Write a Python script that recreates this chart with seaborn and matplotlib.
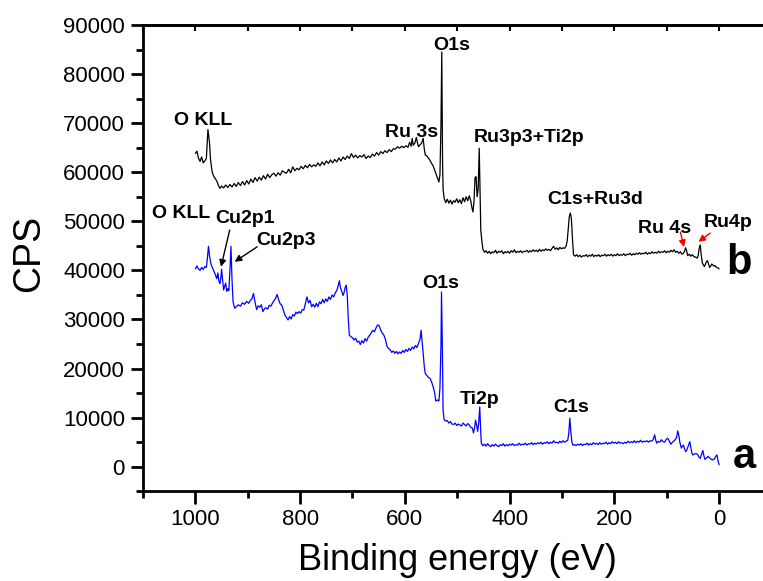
import matplotlib
matplotlib.use("Agg")
import matplotlib.pyplot as plt
from matplotlib.ticker import MultipleLocator
import seaborn as sns
import pandas as pd

# ---------------- data ----------------
b_energy = [1000, 997, 994, 991, 988, 985, 982, 979, 976, 973,
            971, 968, 965, 962, 959, 956, 953, 950, 946, 942,
            938, 934, 930, 926, 922, 918, 914, 910, 906, 902,
            898, 894, 890, 886, 882, 878, 874, 870, 866, 862,
            858, 854, 850, 846, 842, 838, 834, 830, 826, 822,
            818, 814, 810, 806, 802, 798, 794, 790, 786, 782,
            778, 774, 770, 766, 762, 758, 754, 750, 746, 742,
            738, 734, 730, 726, 722, 718, 714, 710, 706, 702,
            698, 694, 690, 686, 682, 678, 674, 670, 666, 662,
            658, 654, 650, 646, 642, 638, 634, 630, 626, 622,
            618, 614, 610, 606, 602, 598, 594, 591, 588, 586,
            584, 581, 578, 576, 574, 571, 568, 565, 563, 561,
            558, 555, 552, 549, 546, 543, 540, 537, 535, 533,
            531, 529.5, 528, 527, 525, 522, 519, 516, 513, 510,
            507, 504, 501, 498, 495, 492, 489, 486, 483, 480,
            477, 474, 472, 470, 468, 466, 464, 462, 460, 458,
            456.5, 455, 453, 451, 448, 445, 442, 439, 436, 433,
            430, 427, 424, 421, 418, 415, 412, 409, 406, 403,
            400, 397, 394, 391, 388, 385, 382, 379, 376, 373,
            370, 367, 364, 361, 358, 355, 352, 349, 346, 343,
            340, 337, 334, 331, 328, 325, 322, 319, 316, 313,
            310, 307, 304, 301, 298, 295, 292, 290, 288, 286,
            284, 282, 280, 278, 275, 272, 269, 266, 263, 260,
            257, 254, 251, 248, 245, 242, 239, 236, 233, 230,
            227, 224, 221, 218, 215, 212, 209, 206, 203, 200,
            197, 194, 191, 188, 185, 182, 179, 176, 173, 170,
            167, 164, 161, 158, 155, 152, 149, 146, 143, 140,
            137, 134, 131, 128, 125, 122, 119, 116, 113, 110,
            107, 104, 101, 98, 95, 92, 89, 86, 83, 80,
            77, 74, 71, 68, 66, 64, 62, 60, 57, 54,
            51, 48, 45, 42, 40, 38, 36, 34, 32, 30,
            28, 26, 24, 22, 20, 18, 16, 14, 12, 10,
            8, 6, 4, 2, 0]
b_cps = [63800, 64300, 62900, 62200, 63100, 61900, 62300, 62800, 68700, 66000,
         62500, 60100, 59200, 58700, 58200, 57300, 56700, 57200, 56800, 57400,
         56900, 57500, 57000, 57700, 57100, 57900, 57300, 58100, 57400, 58300,
         57600, 58600, 57900, 58900, 58200, 59000, 58400, 59300, 58600, 59600,
         58900, 59500, 59800, 59200, 59900, 59400, 60300, 60000, 59800, 60600,
         59900, 61100, 60300, 60800, 60500, 61200, 60700, 61400, 60900, 61600,
         61100, 61500, 61200, 61900, 61300, 62100, 61500, 62300, 61800, 62500,
         61900, 62600, 62100, 62900, 62300, 63100, 62600, 63300, 62800, 63800,
         63000, 63500, 62900, 63400, 63100, 63600, 62800, 63300, 63000, 63700,
         63300, 64000, 63500, 64200, 63800, 64400, 64000, 64600, 64200, 64800,
         64700, 65200, 64900, 65300, 65000, 65400, 65100, 66100, 65300, 66900,
         65500, 65900, 67100, 66000, 65200, 65600, 65900, 66900, 64800, 63500,
         63300, 62900, 62400, 61800, 61300, 60400, 59500, 58600, 58000, 59500,
         70000, 84500, 62000, 56500, 54700, 53800, 54500, 53700, 54300, 53500,
         54200, 53900, 54600, 53800, 54400, 53600, 54800, 54000, 55000, 54200,
         55200, 54100, 52800, 51900, 54000, 58900, 59100, 55000, 56500, 64900,
         57000, 48200, 46000, 44300, 43700, 44000, 43500, 43900, 43400, 43800,
         43600, 44100, 43500, 43900, 43700, 44000, 43400, 43800, 43600, 43900,
         43500, 44000, 43700, 44200, 43600, 43900, 43700, 44000, 43600, 43900,
         43800, 44100, 43700, 44000, 43800, 44200, 43900, 44100, 43800, 44300,
         43900, 44200, 44000, 44400, 44100, 44300, 44000, 44500, 44900, 44300,
         44600, 44200, 44700, 44400, 44600, 44500, 45000, 46000, 48500, 51000,
         51700, 50500, 46500, 43200, 42900, 43200, 42800, 43100, 42700, 43000,
         42900, 43200, 42800, 43100, 42900, 43300, 42800, 43100, 42900, 43200,
         42800, 43100, 43000, 43300, 42900, 43200, 43000, 43300, 42900, 43200,
         43000, 43400, 43000, 43200, 43100, 43400, 43000, 43300, 43200, 43500,
         43100, 43400, 43200, 43500, 43300, 43600, 43300, 43500, 43400, 43700,
         43300, 43600, 43400, 43800, 43500, 43700, 43500, 43900, 43600, 43800,
         43700, 44000, 43600, 43900, 43700, 44100, 43800, 44200, 43700, 43900,
         43500, 43800, 43300, 43500, 43900, 44600, 44000, 43000, 43300, 42900,
         43200, 42800, 42700, 42500, 43000, 44500, 45200, 43000, 41500, 41100,
         40800, 41300, 41800, 42000, 41200, 40600, 40900, 41300, 41100, 40900,
         41000, 40700, 40600, 40500, 40300]

a_energy = [1000, 997, 994, 991, 988, 985, 982, 979, 977, 975,
            973, 970, 968, 965, 962, 959, 957, 955, 953, 951,
            950, 948, 946, 944, 942, 940, 938, 936, 934, 932,
            930, 928, 925, 922, 918, 914, 910, 906, 902, 898,
            895, 892, 889, 886, 883, 880, 877, 874, 871, 868,
            865, 862, 859, 856, 853, 850, 847, 844, 841, 838,
            835, 832, 829, 826, 823, 820, 817, 814, 811, 808,
            805, 802, 799, 796, 793, 790, 787, 784, 781, 778,
            775, 772, 769, 766, 763, 760, 757, 754, 751, 748,
            745, 742, 739, 736, 733, 730, 727, 725, 723, 720,
            718, 716, 714, 712, 710, 708, 706, 703, 700, 697,
            694, 691, 688, 685, 682, 679, 676, 673, 670, 667,
            664, 661, 658, 655, 652, 649, 646, 643, 640, 637,
            634, 631, 628, 625, 622, 619, 616, 613, 610, 607,
            604, 601, 598, 595, 592, 589, 586, 583, 580, 577,
            574, 571, 569, 567, 565, 563, 561, 558, 555, 552,
            549, 546, 543, 541, 538, 535, 533, 531, 530, 528.5,
            527, 525, 522, 519, 516, 513, 510, 507, 504, 501,
            498, 495, 492, 489, 486, 483, 480, 477, 474, 471,
            469, 467, 465, 463, 461, 459, 457, 455.5, 454, 451,
            448, 445, 442, 439, 436, 433, 430, 427, 424, 421,
            418, 415, 412, 409, 406, 403, 400, 397, 394, 391,
            388, 385, 382, 379, 376, 373, 370, 367, 364, 361,
            358, 355, 352, 349, 346, 343, 340, 337, 334, 331,
            328, 325, 322, 319, 316, 313, 310, 307, 304, 301,
            298, 295, 292, 289, 287, 285, 283, 281, 279, 276,
            273, 270, 267, 264, 261, 258, 255, 252, 249, 246,
            243, 240, 237, 234, 231, 228, 225, 222, 219, 216,
            213, 210, 207, 204, 201, 198, 195, 192, 189, 186,
            183, 180, 177, 174, 171, 168, 165, 162, 159, 156,
            153, 150, 147, 144, 141, 138, 135, 132, 129, 126,
            123, 121, 119, 116, 113, 110, 107, 104, 101, 98,
            95, 92, 89, 86, 84, 81, 79, 77, 75, 72,
            70, 68, 66, 64, 62, 59, 56, 54, 52, 50,
            47, 44, 41, 38, 36, 34, 31, 29, 27, 24,
            21, 18, 15, 12, 9, 6, 4, 2, 0]
a_cps = [40300, 40900, 40300, 40000, 40600, 40200, 40800, 40600, 42500, 44900,
         43000, 41200, 40700, 39900, 39200, 38300, 39500, 37800, 37300, 38800,
         40200, 38000, 36000, 36800, 37400, 35700, 36300, 35900, 40000, 44900,
         38000, 33600, 32300, 32600, 33000, 32700, 33400, 33100, 33700, 33300,
         33900, 34200, 35300, 33500, 32000, 32800, 32500, 33000, 31600, 32200,
         32400, 32100, 32900, 32700, 33300, 33800, 34300, 35100, 34000, 33200,
         32900, 31900, 30900, 30400, 29900, 30600, 30100, 31000, 30700, 31500,
         31200, 31600, 31300, 32000, 31900, 33200, 34600, 33400, 33900, 32600,
         33100, 32500, 33300, 32600, 33600, 33200, 34100, 33400, 34200, 33700,
         34600, 34100, 35000, 34600, 35400, 35900, 37000, 37900, 36500, 35600,
         34900, 35500, 36500, 37000, 35000, 30000, 26800, 26500, 26300, 25800,
         26200, 25400, 25600, 24900, 25700, 25200, 26100, 25600, 26400, 26800,
         27300, 27800, 27500, 28300, 28900, 28700, 27800, 27200, 26800, 25900,
         24500, 24100, 23800, 23300, 23600, 23100, 23500, 23000, 23400, 23100,
         23700, 23300, 23900, 23500, 24100, 23700, 24400, 24000, 24700, 24300,
         25100, 26000, 27800, 25500, 23100, 20500, 19000, 18600, 18200, 18000,
         17300, 16300, 15000, 13400, 13600, 13400, 16000, 25000, 35600, 25000,
         11500, 9600, 9300, 9400, 8900, 9200, 8700, 8600, 8900, 8400,
         8700, 8500, 8300, 8900, 8600, 8300, 8800, 8500, 8000, 7900,
         6900, 7800, 9500, 8500, 7200, 9000, 12200, 8000, 4800, 4300,
         4600, 4200, 4700, 4300, 4100, 4500, 4200, 4600, 4300, 4100,
         4500, 4300, 4700, 4200, 4500, 4300, 4600, 4400, 4700, 4300,
         4500, 4400, 4800, 4400, 4600, 4500, 4800, 4400, 4700, 4600,
         4900, 4500, 4800, 4600, 4900, 4700, 5000, 4600, 4900, 4800,
         5100, 4700, 5000, 4800, 5300, 4900, 5000, 4800, 5200, 4900,
         5300, 5000, 5200, 5400, 6800, 9900, 7000, 5000, 4400, 4500,
         4300, 4600, 4400, 4700, 4300, 4600, 4500, 4800, 4400, 4700,
         4500, 4900, 4600, 4800, 4500, 4900, 4600, 4800, 4700, 5000,
         4600, 4900, 4700, 5100, 4800, 5000, 4700, 5100, 4800, 4900,
         4700, 5000, 4800, 5200, 4900, 5100, 4900, 5300, 4900, 5200,
         5000, 5400, 5000, 5200, 5100, 5300, 5000, 5300, 5200, 5500,
         6500, 5400, 4800, 5200, 5000, 5500, 5100, 5000, 5600, 5800,
         5200, 4600, 5000, 5300, 5500, 6000, 7300, 6500, 5000, 3800,
         4200, 4400, 3700, 3100, 3300, 4200, 5100, 4000, 2800, 2400,
         2600, 2700, 2500, 1900, 1700, 2400, 3300, 2200, 1500, 1800,
         2100, 1800, 1500, 1400, 1600, 2200, 2400, 1200, 400]

x_ticks = [1000, 800, 600, 400, 200, 0]
y_ticks = [0, 10000, 20000, 30000, 40000, 50000, 60000, 70000, 80000, 90000]

# peak labels: (text, energy, cps)
b_labels = [("O KLL", 985, 69600), ("Ru 3s", 588, 67160), ("O1s", 510, 84900),
            ("Ru3p3+Ti2p", 363, 66200), ("C1s+Ru3d", 236, 53500),
            ("Ru 4s", 105, 47600), ("Ru4p", -17, 48840)]
a_labels = [("O KLL", 1028, 50660), ("Cu2p1", 905, 49700), ("Cu2p3", 827, 45160),
            ("O1s", 531, 36340), ("Ti2p", 457, 12710), ("C1s", 282, 11200)]
# arrows: (start energy, start cps, end energy, end cps, colour)
arrows = [(934.5, 48210, 951, 40740, "black"), (882, 44810, 925, 41760, "black"),
          (74, 47810, 67, 44750, "red"), (17, 47600, 39.5, 45830, "red")]
series_tags = [("b", -38, 39200), ("a", -48, -330)]

# ---------------- plot ----------------
sns.set_style("ticks")
plt.rcParams["font.family"] = ["Liberation Sans", "DejaVu Sans"]
plt.rcParams.update({"text.color": "black", "axes.labelcolor": "black",
                     "axes.edgecolor": "black", "xtick.color": "black",
                     "ytick.color": "black"})

fig = plt.figure(figsize=(7.63, 5.81), dpi=100)
ax = fig.add_axes([0.1874, 0.1544, 0.8237, 0.8026])

df_b = pd.DataFrame({"E": b_energy, "CPS": b_cps})
df_a = pd.DataFrame({"E": a_energy, "CPS": a_cps})
sns.lineplot(data=df_b, x="E", y="CPS", ax=ax, color="black", lw=0.9,
             sort=False, estimator=None)
sns.lineplot(data=df_a, x="E", y="CPS", ax=ax, color="#0000ff", lw=0.9,
             sort=False, estimator=None)

ax.set_xlim(1100, -100)
ax.set_ylim(-5000, 90000)
ax.set_xticks(x_ticks)
ax.set_yticks(y_ticks)
ax.xaxis.set_minor_locator(MultipleLocator(100))
ax.yaxis.set_minor_locator(MultipleLocator(5000))

for s in ["left", "bottom", "top"]:
    ax.spines[s].set_linewidth(2.0)
    ax.spines[s].set_color("black")
ax.spines["right"].set_visible(False)
ax.tick_params(which="major", direction="out", length=9, width=2,
               labelsize=16, pad=4, colors="black")
ax.tick_params(which="minor", direction="out", length=5, width=2,
               colors="black")
ax.tick_params(axis="x", which="both", top=False)

top = ax.secondary_xaxis("top")
top.set_xticks([1000, 800, 600, 400, 200, 0])
top.xaxis.set_minor_locator(MultipleLocator(100))
top.tick_params(which="both", direction="in", length=4, width=1.5,
                labeltop=False, colors="black")
top.spines["top"].set_linewidth(2.0)
top.spines["top"].set_color("black")

ax.set_xlabel("Binding energy (eV)", fontsize=26, labelpad=9, color="black")
ax.set_ylabel("CPS", fontsize=27, color="black")
ax.yaxis.set_label_coords(-0.152, 0.51)

for txt, e, c in b_labels + a_labels:
    ax.text(e, c, txt, fontsize=14, fontweight="bold", ha="center",
            va="baseline", color="black")
for txt, e, c in series_tags:
    ax.text(e, c, txt, fontsize=30, fontweight="bold", ha="center",
            va="baseline", color="black")
for x0, y0, x1, y1, col in arrows:
    ax.annotate("", xy=(x1, y1), xytext=(x0, y0),
                arrowprops=dict(arrowstyle="-|>", color=col, lw=1.0,
                                mutation_scale=10, shrinkA=0, shrinkB=0))

fig.savefig("out.png", dpi=100)
